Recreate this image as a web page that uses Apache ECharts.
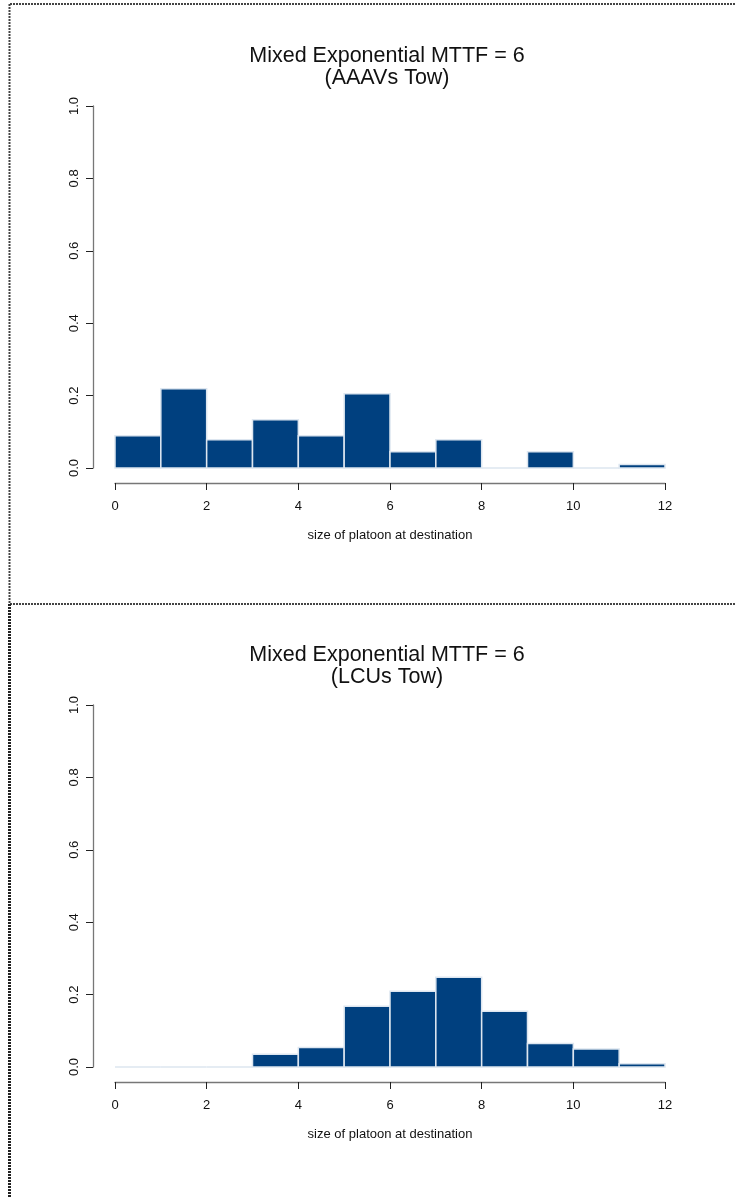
<!DOCTYPE html>
<html>
<head>
<meta charset="utf-8">
<script src="https://cdn.jsdelivr.net/npm/echarts@6/dist/echarts.min.js"></script>
<style>
html,body{margin:0;padding:0;background:#fff;}
#chart{width:735px;height:1198px;}
</style>
</head>
<body>
<div id="chart"></div>
<script>
// ---- data ----
const binEdges = [0, 1, 2, 3, 4, 5, 6, 7, 8, 9, 10, 11, 12];
const aaavsDensity = [0.089, 0.219, 0.078, 0.133, 0.089, 0.205, 0.045, 0.078, 0.0, 0.045, 0.0, 0.010];
const lcusDensity  = [0.0, 0.0, 0.0, 0.035, 0.054, 0.168, 0.209, 0.248, 0.154, 0.065, 0.050, 0.009];
const xTicks = [0, 2, 4, 6, 8, 10, 12];
const yTicks = [0.0, 0.2, 0.4, 0.6, 0.8, 1.0];
const titleMain = 'Mixed Exponential MTTF = 6';
const subTitles = ['(AAAVs Tow)', '(LCUs Tow)'];
const xName = 'size of platoon at destination';

function toBins(vals) {
  return vals.map((v, i) => [binEdges[i], binEdges[i + 1], v]);
}

const FONT = '"Liberation Sans", Arial, Helvetica, sans-serif';
const BAR_FILL = '#00407f';
const BAR_BORDER = '#dde6f0';

function renderItem(params, api) {
  const x0 = api.value(0), x1 = api.value(1), v = api.value(2);
  const p0 = api.coord([x0, v]);
  const p1 = api.coord([x1, 0]);
  return {
    type: 'rect',
    shape: { x: p0[0], y: p0[1], width: p1[0] - p0[0], height: p1[1] - p0[1] },
    style: { fill: BAR_FILL, stroke: BAR_BORDER, lineWidth: 1.5 }
  };
}

const panelTops = [106, 705];
const gridH = 362;

const grids = panelTops.map(t => ({ left: 115, right: 70, top: t, height: gridH }));

const xAxes = panelTops.map((t, i) => ({
  type: 'value', gridIndex: i, min: xTicks[0], max: xTicks[xTicks.length - 1], interval: 2,
  offset: 15,
  axisLine: { show: true, onZero: false, lineStyle: { color: '#777', width: 1.3 } },
  axisTick: { show: true, length: 7, lineStyle: { color: '#222', width: 1 } },
  axisLabel: { fontFamily: FONT, fontSize: 13, color: '#111', margin: 17 },
  splitLine: { show: false },
  name: xName, nameLocation: 'middle', nameGap: 46,
  nameTextStyle: { fontFamily: FONT, fontSize: 13, color: '#111' }
}));

const yAxes = panelTops.map((t, i) => ({
  type: 'value', gridIndex: i, min: yTicks[0], max: yTicks[yTicks.length - 1], interval: 0.2,
  offset: 22,
  axisLine: { show: true, onZero: false, lineStyle: { color: '#777', width: 1.3 } },
  axisTick: { show: true, length: 7, lineStyle: { color: '#222', width: 1 } },
  axisLabel: { fontFamily: FONT, fontSize: 13, color: '#111', rotate: 90, margin: 12,
               formatter: v => v.toFixed(1) },
  splitLine: { show: false }
}));

const titles = panelTops.map((t, i) => ({
  text: titleMain + '\n' + subTitles[i],
  left: 382, top: t - 66,
  textAlign: 'center',
  textStyle: { fontFamily: FONT, fontSize: 21.5, fontWeight: 'normal', color: '#111', lineHeight: 22 }
}));

const series = [aaavsDensity, lcusDensity].map((vals, i) => ({
  type: 'custom', xAxisIndex: i, yAxisIndex: i,
  renderItem: renderItem,
  encode: { x: [0, 1], y: 2 },
  data: toBins(vals),
  silent: true
}));

// dotted frame lines (device region borders)
const frameStyle = { stroke: '#444', lineWidth: 2, lineDash: [2, 1] };
const graphic = [
  { type: 'line', shape: { x1: 10, y1: 4, x2: 735, y2: 4 }, style: frameStyle, silent: true },
  { type: 'line', shape: { x1: 9.5, y1: 4, x2: 9.5, y2: 604 }, style: frameStyle, silent: true },
  { type: 'line', shape: { x1: 10, y1: 604, x2: 735, y2: 604 }, style: frameStyle, silent: true },
  { type: 'line', shape: { x1: 9.5, y1: 604, x2: 9.5, y2: 1198 },
    style: { stroke: '#222', lineWidth: 3, lineDash: [2, 1] }, silent: true }
];

const chart = echarts.init(document.getElementById('chart'), null, { renderer: 'canvas' });
chart.setOption({
  animation: false,
  backgroundColor: '#fff',
  title: titles,
  grid: grids,
  xAxis: xAxes,
  yAxis: yAxes,
  series: series,
  graphic: graphic
});
</script>
</body>
</html>
